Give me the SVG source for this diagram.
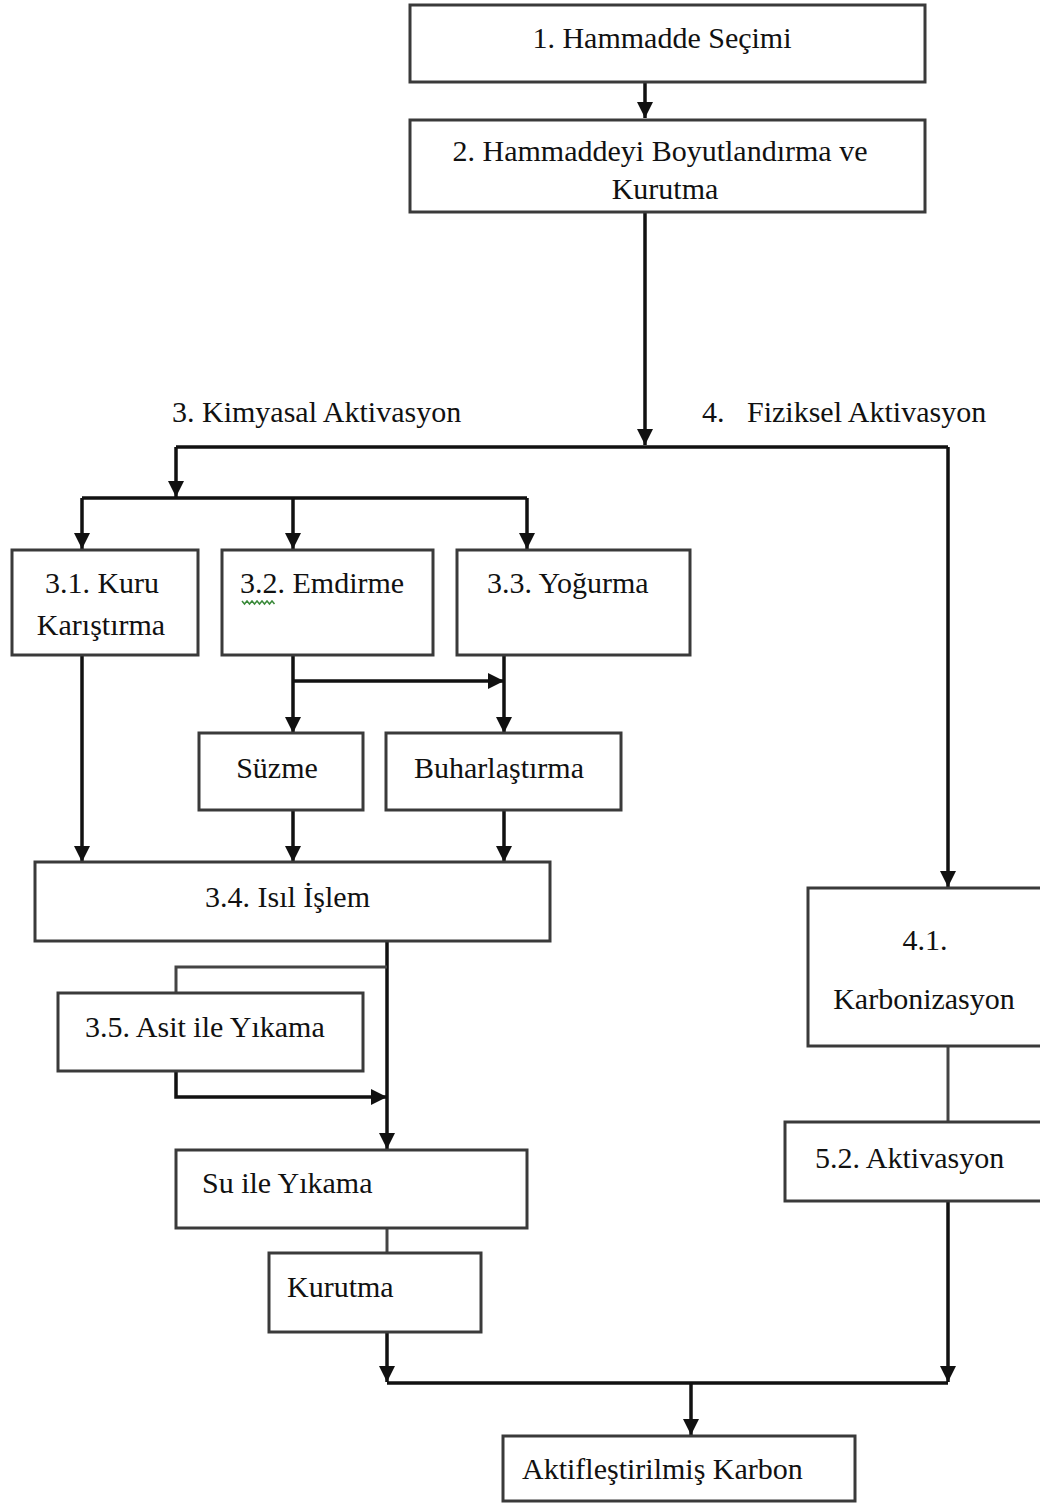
<svg xmlns="http://www.w3.org/2000/svg" width="1040" height="1504" viewBox="0 0 1040 1504">
<style>
.box{fill:#fff;stroke:#3a3a3a;stroke-width:3}
.t{font-family:"Liberation Serif","Times New Roman",serif;font-size:30px;fill:#111}
.c{fill:none;stroke:#111;stroke-width:3.5}
.thin{fill:none;stroke:#444;stroke-width:3}
</style>
<defs>
<marker id="ah" viewBox="0 0 10 10" refX="10" refY="5" markerWidth="18" markerHeight="16" markerUnits="userSpaceOnUse" orient="auto"><path d="M0,0 L10,5 L0,10 z" fill="#111"/></marker>
</defs>
<rect width="1040" height="1504" fill="#fff"/>
<g id="connectors">
<path class="c" d="M645,82 V118" marker-end="url(#ah)"/>
<path class="c" d="M645,212 V445" marker-end="url(#ah)"/>
<path class="c" d="M176,447 H948"/>
<path class="c" d="M176,447 V497" marker-end="url(#ah)"/>
<path class="c" d="M82,498 H527"/>
<path class="c" d="M82,498 V549" marker-end="url(#ah)"/>
<path class="c" d="M293,498 V549" marker-end="url(#ah)"/>
<path class="c" d="M527,498 V549" marker-end="url(#ah)"/>
<path class="c" d="M82,655 V862" marker-end="url(#ah)"/>
<path class="c" d="M293,655 V733" marker-end="url(#ah)"/>
<path class="c" d="M293,681 H504" marker-end="url(#ah)"/>
<path class="c" d="M504,655 V733" marker-end="url(#ah)"/>
<path class="c" d="M293,810 V862" marker-end="url(#ah)"/>
<path class="c" d="M504,810 V862" marker-end="url(#ah)"/>
<path class="c" d="M387,941 V1149" marker-end="url(#ah)"/>
<path class="thin" d="M387,967 H176 V993"/>
<path class="c" d="M176,1071 V1097 H387" marker-end="url(#ah)"/>
<path class="thin" d="M387,1228 V1253"/>
<path class="c" d="M387,1332 V1382" marker-end="url(#ah)"/>
<path class="c" d="M387,1383 H948"/>
<path class="c" d="M691,1383 V1435" marker-end="url(#ah)"/>
<path class="c" d="M948,447 V887" marker-end="url(#ah)"/>
<path class="thin" d="M948,1046 V1122"/>
<path class="c" d="M948,1201 V1382" marker-end="url(#ah)"/>
</g>
<g id="label-kimyasal"><text class="t" x="172" y="422">3. Kimyasal Aktivasyon</text></g>
<g id="label-fiziksel"><text class="t" x="702" y="422" xml:space="preserve">4.   Fiziksel Aktivasyon</text></g>
<g id="n1"><rect class="box" x="410" y="5" width="515" height="77"/><text class="t" x="662" y="48" text-anchor="middle">1. Hammadde Seçimi</text></g>
<g id="n2"><rect class="box" x="410" y="120" width="515" height="92"/><text class="t" x="660" y="161" text-anchor="middle">2. Hammaddeyi Boyutlandırma ve</text><text class="t" x="665" y="199" text-anchor="middle">Kurutma</text></g>
<g id="n31"><rect class="box" x="12" y="550" width="186" height="105"/><text class="t" x="102" y="593" text-anchor="middle">3.1. Kuru</text><text class="t" x="101" y="635" text-anchor="middle">Karıştırma</text></g>
<g id="n32"><rect class="box" x="222" y="550" width="211" height="105"/><text class="t" x="240" y="593">3.2. Emdirme</text><path d="M242,601 l2.5,3 l2.5,-3 l2.5,3 l2.5,-3 l2.5,3 l2.5,-3 l2.5,3 l2.5,-3 l2.5,3 l2.5,-3 l2.5,3 l2.5,-3 l2.5,3" fill="none" stroke="#3a8a3a" stroke-width="1.5"/></g>
<g id="n33"><rect class="box" x="457" y="550" width="233" height="105"/><text class="t" x="487" y="593">3.3. Yoğurma</text></g>
<g id="n-suzme"><rect class="box" x="199" y="733" width="164" height="77"/><text class="t" x="277" y="778" text-anchor="middle">Süzme</text></g>
<g id="n-buhar"><rect class="box" x="386" y="733" width="235" height="77"/><text class="t" x="499" y="778" text-anchor="middle">Buharlaştırma</text></g>
<g id="n34"><rect class="box" x="35" y="862" width="515" height="79"/><text class="t" x="205" y="907">3.4. Isıl İşlem</text></g>
<g id="n35"><rect class="box" x="58" y="993" width="305" height="78"/><text class="t" x="85" y="1037">3.5. Asit ile Yıkama</text></g>
<g id="n-su"><rect class="box" x="176" y="1150" width="351" height="78"/><text class="t" x="202" y="1193">Su ile Yıkama</text></g>
<g id="n-kurutma"><rect class="box" x="269" y="1253" width="212" height="79"/><text class="t" x="287" y="1297">Kurutma</text></g>
<g id="n41"><rect class="box" x="808" y="888" width="240" height="158"/><text class="t" x="925" y="950" text-anchor="middle">4.1.</text><text class="t" x="924" y="1009" text-anchor="middle">Karbonizasyon</text></g>
<g id="n52"><rect class="box" x="785" y="1122" width="260" height="79"/><text class="t" x="815" y="1168">5.2. Aktivasyon</text></g>
<g id="n-akt"><rect class="box" x="503" y="1436" width="352" height="65"/><text class="t" x="522" y="1479">Aktifleştirilmiş Karbon</text></g>
</svg>
